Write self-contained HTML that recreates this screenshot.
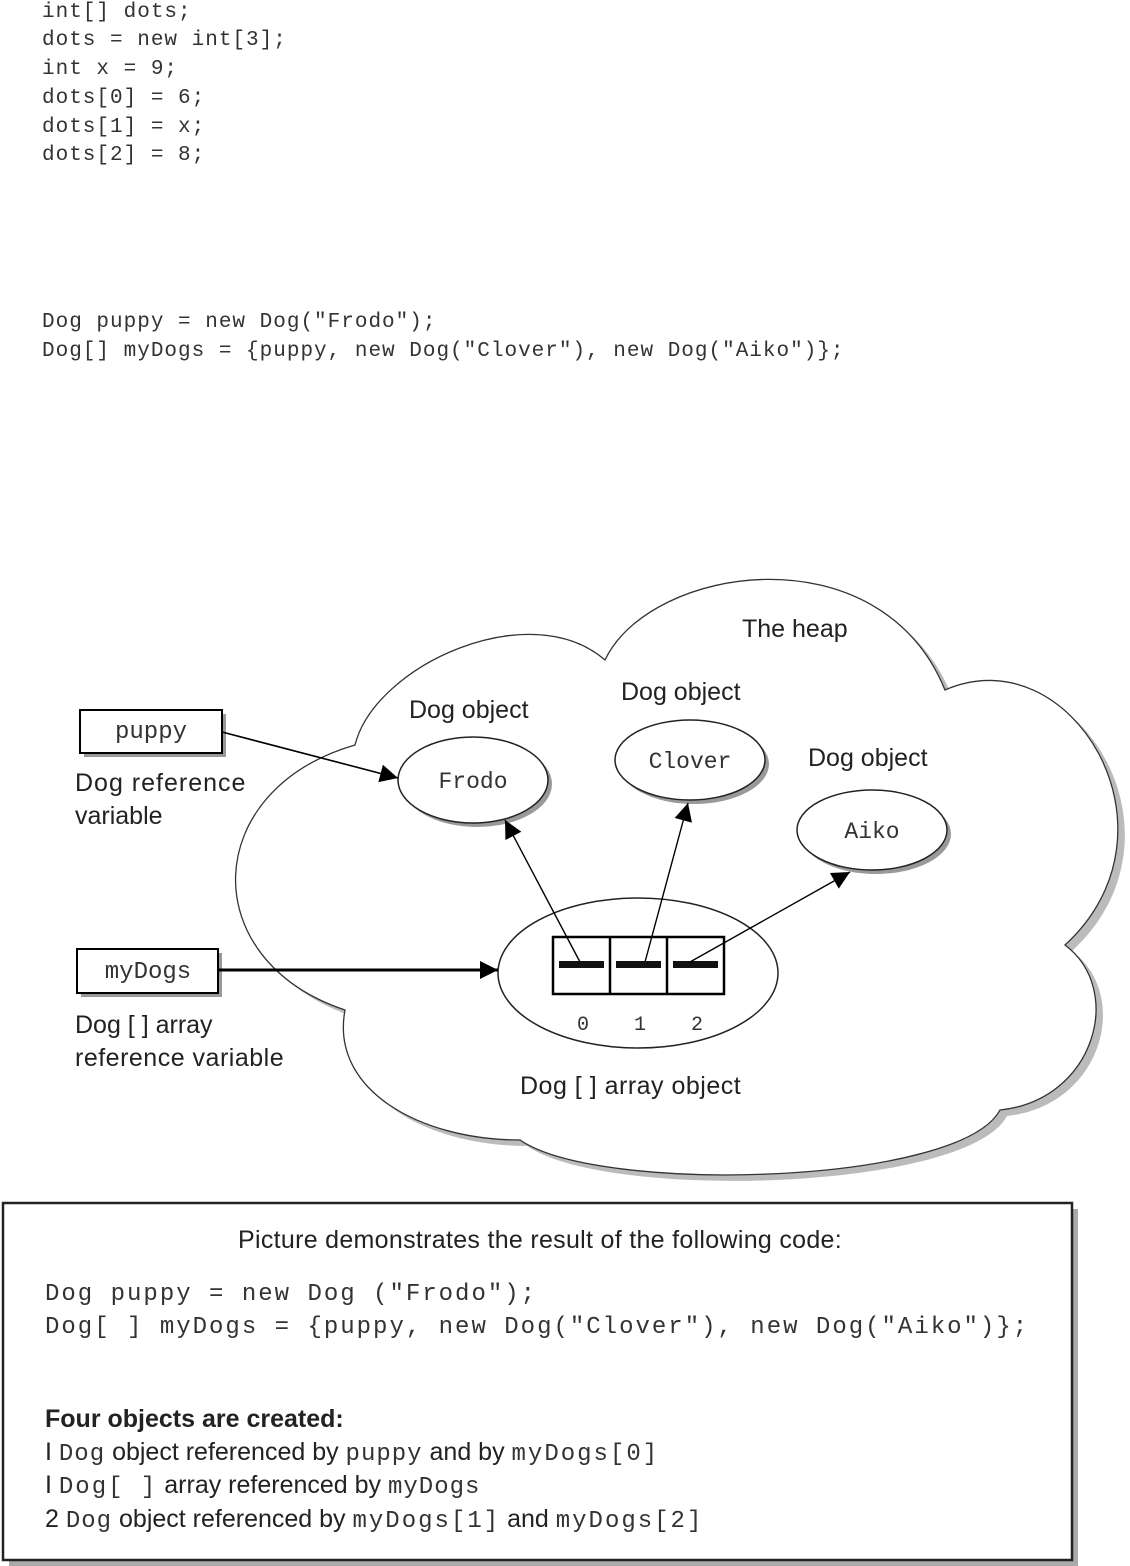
<!DOCTYPE html>
<html><head><meta charset="utf-8"><style>
html,body{margin:0;padding:0;background:#fff;}
svg{display:block;}
.m{font-family:"Liberation Mono",monospace;fill:#333;}
.s{font-family:"Liberation Sans Narrow","Liberation Sans",sans-serif;fill:#222;}
</style></head><body>
<svg width="1130" height="1566" viewBox="0 0 1130 1566" xmlns="http://www.w3.org/2000/svg">
<defs>
<marker id="ah2" markerWidth="18" markerHeight="18" refX="16" refY="8" orient="auto" markerUnits="userSpaceOnUse" viewBox="0 0 16 16">
<path d="M0,0 L16,8 L0,16 z" fill="#000"/></marker>
</defs>
<g class="m" font-size="21" letter-spacing="1">
<text x="42" y="17">int[] dots;</text>
<text x="42" y="45">dots = new int[3];</text>
<text x="42" y="74">int x = 9;</text>
<text x="42" y="103">dots[0] = 6;</text>
<text x="42" y="132">dots[1] = x;</text>
<text x="42" y="160">dots[2] = 8;</text>
<text x="42" y="327">Dog puppy = new Dog("Frodo");</text>
<text x="42" y="356">Dog[] myDogs = {puppy, new Dog("Clover"), new Dog("Aiko")};</text>
</g>
<!-- cloud -->
<g>
<path transform="translate(7,6)" d="M355,745 C375,665 530,595 605,660 C650,565 880,530 945,690 C1070,635 1190,830 1065,945 C1125,990 1095,1100 1000,1110 C960,1185 600,1195 520,1140 C420,1140 330,1090 345,1010 C195,960 200,790 355,745 Z" fill="#bbb"/>
<path d="M355,745 C375,665 530,595 605,660 C650,565 880,530 945,690 C1070,635 1190,830 1065,945 C1125,990 1095,1100 1000,1110 C960,1185 600,1195 520,1140 C420,1140 330,1090 345,1010 C195,960 200,790 355,745 Z" fill="#fff" stroke="#333" stroke-width="1.3"/>
</g>
<!-- ellipses -->
<g stroke="#222" stroke-width="1.5" fill="#fff">
<ellipse cx="477" cy="784" rx="75" ry="43" fill="#999" stroke="none"/>
<ellipse cx="473" cy="780" rx="75" ry="43"/>
<ellipse cx="694" cy="764" rx="75" ry="40" fill="#999" stroke="none"/>
<ellipse cx="690" cy="760" rx="75" ry="40"/>
<ellipse cx="876" cy="834" rx="75" ry="40" fill="#999" stroke="none"/>
<ellipse cx="872" cy="830" rx="75" ry="40"/>
<ellipse cx="638" cy="973" rx="140" ry="75"/>
</g>
<g class="m" font-size="23" text-anchor="middle">
<text x="473" y="788">Frodo</text>
<text x="690" y="768">Clover</text>
<text x="872" y="838">Aiko</text>
<text x="583" y="1030" font-size="20">0</text>
<text x="640" y="1030" font-size="20">1</text>
<text x="697" y="1030" font-size="20">2</text>
</g>
<!-- array -->
<rect x="553" y="937" width="171" height="57" fill="#fff" stroke="#000" stroke-width="2.5"/>
<line x1="610" y1="937" x2="610" y2="994" stroke="#000" stroke-width="2.5"/>
<line x1="667" y1="937" x2="667" y2="994" stroke="#000" stroke-width="2.5"/>
<g fill="#111"><rect x="559" y="961" width="45" height="7"/><rect x="616" y="961" width="45" height="7"/><rect x="673" y="961" width="45" height="7"/></g>
<!-- boxes -->
<rect x="84" y="714" width="142" height="43" fill="#999"/>
<rect x="80" y="710" width="142" height="43" fill="#fff" stroke="#000" stroke-width="2"/>
<rect x="81" y="953" width="141" height="44" fill="#999"/>
<rect x="77" y="949" width="141" height="44" fill="#fff" stroke="#000" stroke-width="2"/>
<g class="m" font-size="24" text-anchor="middle">
<text x="151" y="738">puppy</text>
<text x="148" y="978">myDogs</text>
</g>
<!-- arrows -->
<g stroke="#000" fill="none">
<line x1="222" y1="732" x2="398" y2="778" stroke-width="1.6" marker-end="url(#ah2)"/>
<line x1="218" y1="970" x2="498" y2="970" stroke-width="3" marker-end="url(#ah2)"/>
<line x1="580" y1="962" x2="505" y2="820" stroke-width="1.4" marker-end="url(#ah2)"/>
<line x1="645" y1="962" x2="688" y2="803" stroke-width="1.4" marker-end="url(#ah2)"/>
<line x1="690" y1="962" x2="850" y2="872" stroke-width="1.4" marker-end="url(#ah2)"/>
</g>
<g class="s" font-size="25">
<text x="742" y="637">The heap</text>
<text x="409" y="718">Dog object</text>
<text x="621" y="700">Dog object</text>
<text x="808" y="766">Dog object</text>
<text x="75" y="791" letter-spacing="1">Dog  reference</text>
<text x="75" y="824">variable</text>
<text x="75" y="1033">Dog [   ] array</text>
<text x="75" y="1066" letter-spacing="0.5">reference variable</text>
<text x="520" y="1094" letter-spacing="0.5">Dog [   ] array object</text>
</g>
<!-- bottom box -->
<rect x="9" y="1209" width="1069" height="357" fill="#aaa"/>
<rect x="3" y="1203" width="1069" height="357" fill="#fff" stroke="#222" stroke-width="2.5"/>
<text class="s" x="540" y="1248" font-size="25" text-anchor="middle" letter-spacing="0.3">Picture demonstrates the result of the following code:</text>
<g class="m" font-size="24" letter-spacing="2">
<text x="45" y="1300">Dog puppy = new Dog ("Frodo");</text>
<text x="45" y="1333">Dog[ ] myDogs = {puppy, new Dog("Clover"), new Dog("Aiko")};</text>
</g>
<text class="s" x="45" y="1427" font-size="25" font-weight="bold">Four objects are created:</text>
<g class="s" font-size="25">
<text x="45" y="1460">I <tspan class="m" font-size="24" letter-spacing="1">Dog</tspan>  object referenced by <tspan class="m" font-size="24" letter-spacing="1">puppy</tspan> and by <tspan class="m" font-size="24" letter-spacing="2">myDogs[0]</tspan></text>
<text x="45" y="1493">I <tspan class="m" font-size="24" letter-spacing="2">Dog[ ]</tspan> array referenced by <tspan class="m" font-size="24" letter-spacing="1">myDogs</tspan></text>
<text x="45" y="1527">2 <tspan class="m" font-size="24" letter-spacing="1">Dog</tspan>  object referenced by <tspan class="m" font-size="24" letter-spacing="2">myDogs[1]</tspan> and <tspan class="m" font-size="24" letter-spacing="2">myDogs[2]</tspan></text>
</g>
</svg>
</body></html>
